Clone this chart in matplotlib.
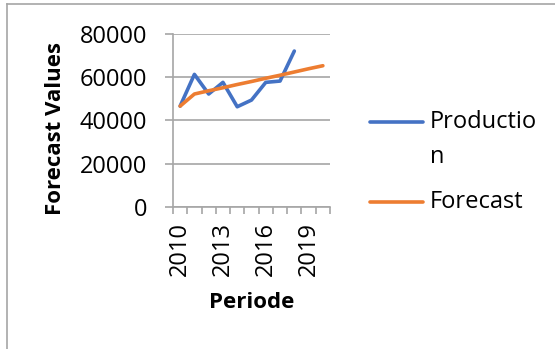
import matplotlib
matplotlib.use("Agg")
import matplotlib.pyplot as plt
from matplotlib.lines import Line2D
from matplotlib.ticker import FixedLocator, NullFormatter

# Data
years = ["2010", "2011", "2012", "2013", "2014", "2015", "2016",
         "2017", "2018", "2019", "2020"]
production = [46600, 61300, 52200, 57600, 46300, 49400, 57600, 58200, 72100]
forecast = [46600, 52200, 53700, 55100, 56600, 58000, 59500, 60900,
            62400, 63900, 65300]
yticks = [0, 20000, 40000, 60000, 80000]
series_names = ["Production", "Forecast"]

BLUE = "#4472C4"
ORANGE = "#ED7D31"
GRAY = "#a6a6a6"
FONT = "Open Sans"
FS = 17
FS_TITLE = 16
LW = 2.6

plt.rcParams["font.family"] = FONT

W, H = 555, 349
fig = plt.figure(figsize=(W / 100, H / 100), dpi=100)
fig.patch.set_facecolor("white")

# plot area in pixel coordinates
x0, x1 = 173, 330
y_top, y_bot = 34, 206.7
ax = fig.add_axes([x0 / W, 1 - y_bot / H, (x1 - x0) / W, (y_bot - y_top) / H])

xs_prod = list(range(len(production)))
xs_fc = list(range(len(forecast)))
ax.plot(xs_prod, production, color=BLUE, lw=LW, solid_capstyle="round",
        solid_joinstyle="round", zorder=3)
ax.plot(xs_fc, forecast, color=ORANGE, lw=LW, solid_capstyle="round",
        solid_joinstyle="round", zorder=4)

ax.set_xlim(-0.5, len(years) - 0.5)
ax.set_ylim(0, 80000)

# y axis
ax.set_yticks(yticks)
ax.set_yticklabels([str(v) for v in yticks], fontsize=FS)
ax.yaxis.grid(True, color=GRAY, lw=1.2)
ax.tick_params(axis="y", length=5.8, width=1.2, color=GRAY, pad=13)

# x axis: tick marks between categories, labels every third year
label_idx = list(range(0, len(years), 3))
ax.set_xticks(label_idx)
ax.set_xticklabels([years[i] for i in label_idx], rotation=90, fontsize=FS)
ax.tick_params(axis="x", which="major", length=0, pad=11)
ax.xaxis.set_minor_locator(FixedLocator([i - 0.5 for i in range(len(years) + 1)]))
ax.xaxis.set_minor_formatter(NullFormatter())
ax.tick_params(axis="x", which="minor", length=5, width=1.2, color=GRAY)

for s in ["top", "right"]:
    ax.spines[s].set_visible(False)
for s in ["left", "bottom"]:
    ax.spines[s].set_color(GRAY)
    ax.spines[s].set_linewidth(1.2)
ax.set_axisbelow(True)

# axis titles
fig.text(56 / W, 1 - 129 / H, "Forecast Values", rotation=90, fontsize=FS_TITLE,
         fontweight="bold", ha="center", va="center")
fig.text(251.5 / W, 1 - 303 / H, "Periode", fontsize=FS_TITLE, fontweight="bold",
         ha="center", va="center")

# legend
def legend_entry(y, color, text):
    fig.add_artist(Line2D([370 / W, 423 / W], [1 - y / H, 1 - y / H],
                          color=color, lw=LW, solid_capstyle="round"))
    fig.text(430 / W, 1 - y / H, text, fontsize=FS, ha="left", va="center")

legend_entry(121.7, BLUE, series_names[0][:-1])
fig.text(430 / W, 1 - 157 / H, series_names[0][-1], fontsize=FS,
         ha="left", va="center")
legend_entry(201.7, ORANGE, series_names[1])

# chart frame
fig.add_artist(Line2D([6.5 / W, 1], [1 - 4 / H, 1 - 4 / H], color=GRAY, lw=1.2))
fig.add_artist(Line2D([6.5 / W, 6.5 / W], [0, 1 - 4 / H], color=GRAY, lw=1.2))

fig.savefig("out.png", dpi=100, facecolor="white")
